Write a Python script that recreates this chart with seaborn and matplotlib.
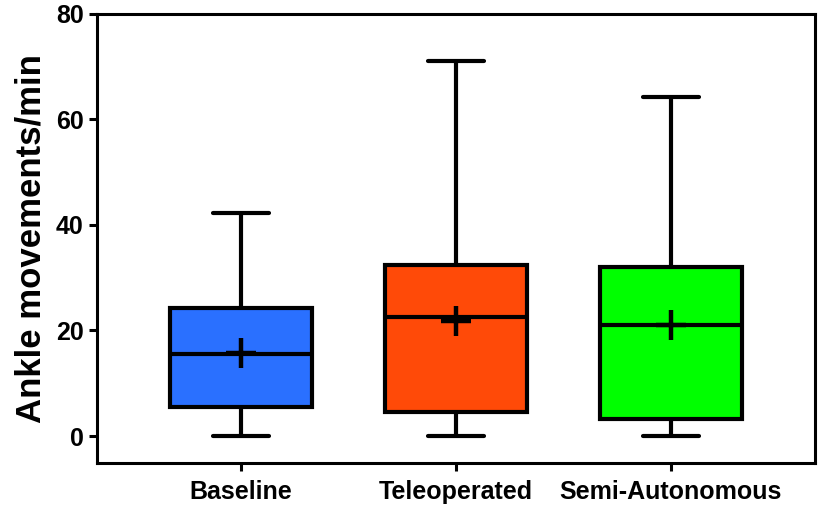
import numpy as np
import matplotlib
matplotlib.use('Agg')
import matplotlib.pyplot as plt
import seaborn as sns

# summary values
groups = ['Baseline', 'Teleoperated', 'Semi-Autonomous']
mins = [0, 0, 0]
q1 = [5.5, 4.5, 3.2]
medians = [15.5, 22.6, 21.0]
q3 = [24.3, 32.4, 32.0]
maxs = [42.2, 71.1, 64.2]
means = [15.7, 21.8, 21.0]
colors = ['#2a70ff', '#ff4a08', '#00ff00']

sns.set_style('ticks', {'axes.edgecolor': 'black', 'xtick.color': 'black',
                        'ytick.color': 'black', 'text.color': 'black',
                        'axes.labelcolor': 'black'})
plt.rcParams['font.family'] = ['Liberation Sans', 'DejaVu Sans']
plt.rcParams['font.weight'] = 'bold'

fig = plt.figure(figsize=(8.29, 5.11), dpi=100)
ax = fig.add_axes([0.117, 0.094, 0.866, 0.879])

stats = []
for i, g in enumerate(groups):
    stats.append({'label': g, 'whislo': mins[i], 'q1': q1[i], 'med': medians[i],
                  'q3': q3[i], 'whishi': maxs[i], 'fliers': []})

lw = 3
bp = ax.bxp(stats, positions=range(len(groups)), widths=0.66, patch_artist=True,
            showfliers=False,
            boxprops=dict(linewidth=lw, edgecolor='black'),
            medianprops=dict(linewidth=lw, color='black'),
            whiskerprops=dict(linewidth=lw, color='black'),
            capprops=dict(linewidth=lw, color='black'),
            capwidths=0.26)
for patch, c in zip(bp['boxes'], colors):
    patch.set_facecolor(c)

# mean markers
ax.plot(range(len(groups)), means, linestyle='none', marker='+', markersize=22,
        markeredgewidth=3.2, color='black', zorder=5)

ax.set_xlim(-0.67, 2.67)
ax.set_ylim(-5.1, 80)
ax.set_yticks([0, 20, 40, 60, 80])
ax.set_xticks(range(len(groups)))
ax.set_xticklabels(groups, fontsize=18, fontweight='bold')
ax.tick_params(axis='y', labelsize=18, width=2.2, length=6, colors='black')
ax.tick_params(axis='x', width=2.2, length=6, pad=6, colors='black')
for lab in ax.get_yticklabels():
    lab.set_fontweight('bold')
for s in ax.spines.values():
    s.set_linewidth(2.2)
    s.set_color('black')
ax.set_ylabel('Ankle movements/min', fontsize=25, fontweight='bold', labelpad=6,
              color='black')

fig.savefig('out.png', dpi=100)
